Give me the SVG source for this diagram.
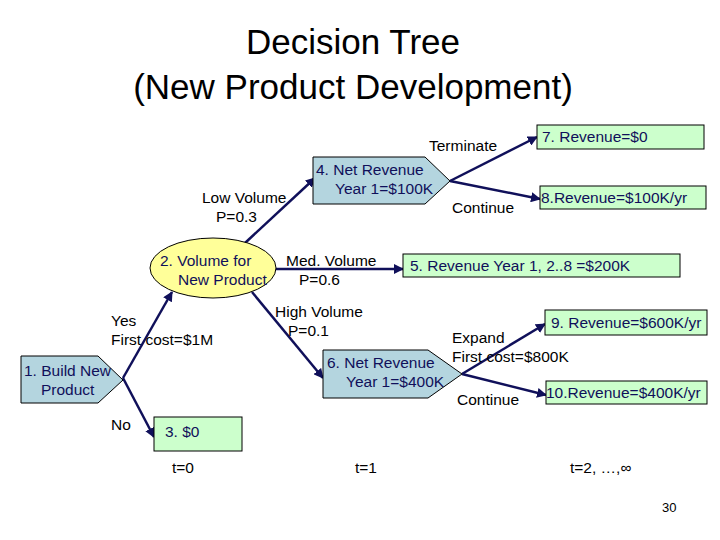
<svg xmlns="http://www.w3.org/2000/svg" width="720" height="540" viewBox="0 0 720 540">
<style>
text{font-family:"Liberation Sans",Arial,sans-serif;fill:#000}
.t{font-size:15.5px}
.n{font-size:15.5px;fill:#10105a}
.blue{fill:#b4d5df;stroke:#000;stroke-width:1}
.green{fill:#ccffcc;stroke:#000;stroke-width:1}
.e{stroke:#10105a;stroke-width:2.5;fill:none;marker-end:url(#a)}
</style>
<defs><marker id="a" viewBox="0 0 10 10" refX="9" refY="5" markerWidth="4" markerHeight="4" orient="auto"><path d="M0,0L10,5L0,10z" fill="#10105a"/></marker></defs>
<rect width="720" height="540" fill="#fff"/>
<text x="353" y="54" font-size="35" text-anchor="middle">Decision Tree</text>
<text x="353" y="99" font-size="35" text-anchor="middle">(New Product Development)</text>
<g id="edges">
<path class="e" d="M123,378L172,292"/>
<path class="e" d="M123,378L154,437"/>
<path class="e" d="M245,243L315,178"/>
<path class="e" d="M276,269L403,269"/>
<path class="e" d="M252,292L323,378"/>
<path class="e" d="M450,181L537,137"/>
<path class="e" d="M450,181L540,199"/>
<path class="e" d="M462,374L545,324"/>
<path class="e" d="M462,374L546,395"/>
</g>
<g id="n1"><polygon class="blue" points="21,356 98,356 123,380 98,403 21,403"/><text class="n" x="24" y="376">1. Build New</text><text class="n" x="41" y="395">Product</text></g>
<g id="n2"><ellipse cx="213" cy="268" rx="63" ry="30" fill="#ffff99" stroke="#000"/><text class="n" x="160" y="266">2. Volume for</text><text class="n" x="178" y="285">New Product</text></g>
<g id="n3"><rect class="green" x="154" y="417" width="88" height="34"/><text class="n" x="165" y="437">3. $0</text></g>
<g id="n4"><polygon class="blue" points="313,157 425,157 450,181 425,204 313,204"/><text class="n" x="316" y="175">4. Net Revenue</text><text class="n" x="335" y="194">Year 1=$100K</text></g>
<g id="n5"><rect class="green" x="403" y="254" width="277" height="23"/><text class="n" x="410" y="271">5. Revenue Year 1, 2..8 =$200K</text></g>
<g id="n6"><polygon class="blue" points="323,350 428,350 462,374 428,398 323,398"/><text class="n" x="327" y="368">6. Net Revenue</text><text class="n" x="346" y="387">Year 1=$400K</text></g>
<g id="n7"><rect class="green" x="537" y="125" width="167" height="24"/><text class="n" x="542" y="142">7. Revenue=$0</text></g>
<g id="n8"><rect class="green" x="540" y="186" width="166" height="23"/><text class="n" x="541" y="203">8.Revenue=$100K/yr</text></g>
<g id="n9"><rect class="green" x="545" y="310" width="162" height="25"/><text class="n" x="551" y="328">9. Revenue=$600K/yr</text></g>
<g id="n10"><rect class="green" x="546" y="381" width="161" height="23"/><text class="n" x="546" y="398">10.Revenue=$400K/yr</text></g>
<g id="labels">
<text class="t" x="429" y="151">Terminate</text>
<text class="t" x="452" y="213">Continue</text>
<text class="t" x="202" y="203">Low Volume</text>
<text class="t" x="216" y="222">P=0.3</text>
<text class="t" x="286" y="266">Med. Volume</text>
<text class="t" x="299" y="285">P=0.6</text>
<text class="t" x="275" y="317">High Volume</text>
<text class="t" x="288" y="336">P=0.1</text>
<text class="t" x="111" y="326">Yes</text>
<text class="t" x="111" y="345">First cost=$1M</text>
<text class="t" x="111" y="430">No</text>
<text class="t" x="452" y="343">Expand</text>
<text class="t" x="452" y="362">First cost=$800K</text>
<text class="t" x="457" y="405">Continue</text>
<text class="t" x="172" y="473">t=0</text>
<text class="t" x="355" y="473">t=1</text>
<text class="t" x="570" y="473">t=2, …,∞</text>
<text x="662" y="512" font-size="13">30</text>
</g>
</svg>
